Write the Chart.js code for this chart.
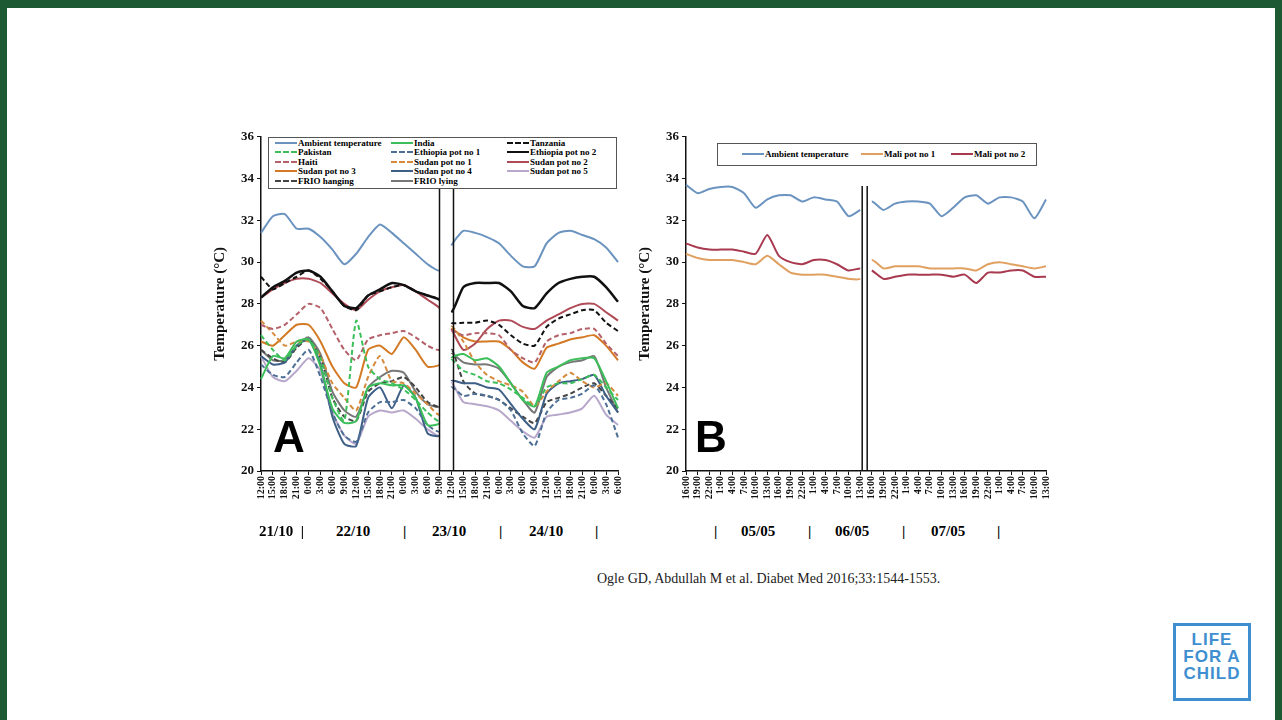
<!DOCTYPE html>
<html>
<head>
<meta charset="utf-8">
<script src="https://cdn.jsdelivr.net/npm/chart.js@4"></script>
<style>
  body { margin: 0; width: 1282px; height: 720px; background: #1d5a34; position: relative; overflow: hidden; font-family: "Liberation Serif", serif; }
  #slide { position: absolute; left: 7px; top: 8px; width: 1268px; height: 712px; background: #fff; }
  canvas { position: absolute; }
  .txt { position: absolute; font-weight: bold; color: #000; white-space: nowrap; }
  .date { font-size: 15px; top: 523px; }
  .big { font-family: "Liberation Sans", Arial, sans-serif; font-size: 44px; font-weight: bold; }
  #legA { position: absolute; left: 268px; top: 137px; width: 347px; height: 50px; border: 1px solid #555; background: #fff; font-size: 9px; font-weight: bold; }
  #legB { position: absolute; left: 717px; top: 143px; width: 318px; height: 21px; border: 1px solid #555; background: #fff; font-size: 9px; font-weight: bold; }
  .li { position: absolute; display: flex; align-items: center; height: 10px; }
  .sw { width: 22px; height: 0; margin-right: 1px; }
  #cite { position: absolute; left: 597px; top: 571px; font-size: 14px; color: #222; }
  #logo { position: absolute; left: 1173px; top: 623px; width: 78px; height: 78px; border: 3px solid #3f8fd0; box-sizing: border-box; color: #3f8fd0; font-family: "Liberation Sans", sans-serif; font-weight: bold; font-size: 17px; line-height: 17px; text-align: center; padding-top: 5px; letter-spacing: 1px; }
</style>
</head>
<body>
<div id="slide"></div>
<canvas id="chartA"></canvas>
<canvas id="chartB"></canvas>
<div id="legA"></div>
<div id="legB"></div>
<div class="txt big" style="left:273px;top:412px">A</div>
<div class="txt big" style="left:695px;top:412px">B</div>
<div class="txt date" style="left:259px">21/10 &nbsp;|</div>
<div class="txt date" style="left:336px">22/10</div>
<div class="txt date" style="left:403px">|</div>
<div class="txt date" style="left:432px">23/10</div>
<div class="txt date" style="left:499px">|</div>
<div class="txt date" style="left:529px">24/10</div>
<div class="txt date" style="left:595px">|</div>
<div class="txt date" style="left:714px">|</div>
<div class="txt date" style="left:741px">05/05</div>
<div class="txt date" style="left:808px">|</div>
<div class="txt date" style="left:835px">06/05</div>
<div class="txt date" style="left:902px">|</div>
<div class="txt date" style="left:931px">07/05</div>
<div class="txt date" style="left:997px">|</div>
<div id="cite">Ogle GD, Abdullah M et al. Diabet Med 2016;33:1544-1553.</div>
<div id="logo">LIFE<br>FOR A<br>CHILD</div>
<script>
// ---- Panel A data (3-hourly, left block idx 0-15, right block idx 16-30)
const labelsA = ['12:00','15:00','18:00','21:00','0:00','3:00','6:00','9:00','12:00','15:00','18:00','21:00','0:00','3:00','6:00','9:00',
                 '12:00','15:00','18:00','21:00','0:00','3:00','6:00','9:00','12:00','15:00','18:00','21:00','0:00','3:00','6:00'];
const ambientA   = [31.4,32.2,32.3,31.6,31.6,31.2,30.6,29.9,30.4,31.2,31.8,31.4,30.9,30.4,29.9,29.6, 30.8,31.5,31.4,31.2,30.9,30.3,29.8,29.8,30.9,31.4,31.5,31.3,31.1,30.7,30.0];
const india      = [24.4,25.5,25.4,26.2,26.3,25.0,23.0,22.3,22.4,24.0,24.2,24.1,24.1,23.5,22.2,22.3, 25.4,25.6,25.3,25.4,25.0,24.2,23.4,23.1,24.7,25.0,25.3,25.4,25.4,24.3,23.0];
const tanzania   = [29.3,28.7,29.0,29.3,29.6,29.2,28.6,27.9,27.7,28.4,28.6,28.8,28.9,28.6,28.4,28.2, 27.1,27.1,27.1,27.2,27.0,26.5,26.1,26.0,26.9,27.3,27.5,27.7,27.7,27.1,26.7];
const pakistan   = [26.5,25.8,25.3,26.0,26.3,25.4,23.5,22.4,27.2,25.0,24.4,24.2,23.9,23.4,22.8,22.4, 25.3,24.8,24.6,24.3,24.2,23.9,23.5,23.1,24.0,24.2,24.2,24.4,24.6,24.0,23.4];
const ethiopia1  = [25.1,24.6,24.5,25.2,25.8,24.5,22.8,21.7,21.4,22.8,23.3,23.3,23.4,23.0,22.2,21.9, 24.0,23.6,23.7,23.6,23.4,22.9,21.8,21.2,22.8,23.4,23.5,23.7,24.1,23.2,21.6];
const ethiopia2  = [28.3,28.8,29.1,29.5,29.6,29.3,28.6,27.9,27.8,28.4,28.7,29.0,28.9,28.6,28.4,28.2, 27.6,28.8,29.0,29.0,29.0,28.6,27.9,27.8,28.5,29.0,29.2,29.3,29.3,28.8,28.1];
const haiti      = [27.0,26.8,27.0,27.5,28.0,27.8,26.8,25.8,25.3,26.3,26.5,26.6,26.7,26.4,26.0,25.8, 26.7,26.5,26.6,26.6,26.5,25.8,25.4,25.2,26.2,26.5,26.6,26.8,26.8,26.1,25.5];
const sudan1     = [27.2,26.6,26.0,26.2,26.2,25.5,24.2,23.5,22.9,24.5,25.5,24.3,24.2,23.7,23.2,22.7, 26.9,26.2,25.2,24.6,24.3,24.1,23.8,23.1,23.8,24.3,24.7,24.3,24.0,24.2,23.6];
const sudan2     = [28.3,28.7,29.0,29.2,29.2,29.0,28.5,28.0,27.7,28.2,28.6,28.8,28.9,28.6,28.2,27.8, 26.8,25.8,26.1,26.8,27.2,27.2,26.9,26.8,27.2,27.5,27.8,28.0,28.0,27.6,27.2];
const sudan3     = [26.2,26.0,26.5,27.0,27.0,26.2,25.0,24.2,24.0,25.8,26.0,25.6,26.4,25.8,25.0,25.1, 26.8,26.4,26.2,26.2,26.2,25.8,25.2,24.9,25.9,26.1,26.3,26.4,26.5,26.0,25.3];
const sudan4     = [25.5,25.1,25.2,26.0,26.3,25.1,22.6,21.3,21.2,23.5,24.0,23.0,24.1,23.5,21.8,21.7, 24.3,24.2,24.2,24.0,23.9,23.2,22.5,22.0,23.7,24.2,24.3,24.4,24.6,23.6,22.8];
const sudan5     = [25.5,24.5,24.3,24.8,25.4,24.8,22.8,21.7,21.3,22.6,22.9,22.8,22.9,22.5,22.0,21.7, 24.2,23.3,23.2,23.1,22.9,22.4,21.9,21.6,22.6,22.7,22.8,23.0,23.6,22.7,22.2];
const frioHang   = [25.8,25.4,25.2,25.9,26.3,25.4,23.5,22.6,22.4,23.8,24.2,24.3,24.5,24.0,23.3,23.1, 25.8,24.3,23.7,23.6,23.4,23.0,22.6,22.3,23.3,23.5,23.7,24.0,24.2,23.6,23.0];
const frioLying  = [25.8,25.3,25.3,26.0,26.4,25.6,23.8,22.9,22.6,24.0,24.5,24.8,24.7,23.8,23.2,23.1, 25.6,25.2,25.1,25.1,24.9,24.2,23.4,22.8,24.5,25.0,25.2,25.3,25.5,24.0,22.8];

// ---- Panel B data (3-hourly, left block idx 0-15, right block idx 16-31)
const labelsB = ['16:00','19:00','22:00','1:00','4:00','7:00','10:00','13:00','16:00','19:00','22:00','1:00','4:00','7:00','10:00','13:00',
                 '16:00','19:00','22:00','1:00','4:00','7:00','10:00','13:00','16:00','19:00','22:00','1:00','4:00','7:00','10:00','13:00'];
const ambientB = [33.7,33.3,33.5,33.6,33.6,33.3,32.6,33.0,33.2,33.2,32.9,33.1,33.0,32.9,32.2,32.5, 32.9,32.5,32.8,32.9,32.9,32.8,32.2,32.6,33.1,33.2,32.8,33.1,33.1,32.9,32.1,33.0];
const mali1    = [30.4,30.2,30.1,30.1,30.1,30.0,29.9,30.3,29.9,29.5,29.4,29.4,29.4,29.3,29.2,29.2, 30.1,29.7,29.8,29.8,29.8,29.7,29.7,29.7,29.7,29.6,29.9,30.0,29.9,29.8,29.7,29.8];
const mali2    = [30.9,30.7,30.6,30.6,30.6,30.5,30.4,31.3,30.3,30.0,29.9,30.1,30.1,29.9,29.6,29.7, 29.6,29.2,29.3,29.4,29.4,29.4,29.4,29.3,29.4,29.0,29.5,29.5,29.6,29.6,29.3,29.3];

const GAP = 15; // last index of left block

function ds(label, data, color, dashed, width) {
  return {
    label: label, data: data, borderColor: color, borderWidth: width || 2,
    borderDash: dashed ? [5, 3] : [], pointRadius: 0, tension: 0.2, fill: false,
    segment: { borderColor: c => c.p0DataIndex === GAP ? 'rgba(0,0,0,0)' : undefined }
  };
}

const setsA = [
  ds('Ambient temperature', ambientA, '#6b93bf'),
  ds('India', india, '#3cbf5a'),
  ds('Tanzania', tanzania, '#111', true),
  ds('Pakistan', pakistan, '#3cbf5a', true),
  ds('Ethiopia pot no 1', ethiopia1, '#4e7096', true),
  ds('Ethiopia pot no 2', ethiopia2, '#111', false, 2.5),
  ds('Haiti', haiti, '#b5616a', true),
  ds('Sudan pot no 1', sudan1, '#d68a3c', true),
  ds('Sudan pot no 2', sudan2, '#b04a57'),
  ds('Sudan pot no 3', sudan3, '#d47a25'),
  ds('Sudan pot no 4', sudan4, '#3e5f86'),
  ds('Sudan pot no 5', sudan5, '#b7a8cb'),
  ds('FRIO hanging', frioHang, '#444', true),
  ds('FRIO lying', frioLying, '#777')
];
const setsB = [
  ds('Ambient temperature', ambientB, '#6b93bf'),
  ds('Mali pot no 1', mali1, '#e0a060'),
  ds('Mali pot no 2', mali2, '#a8394f')
];

const gapLines = {
  id: 'gapLines',
  afterDatasetsDraw(chart, args, opts) {
    const x = chart.scales.x, ca = chart.chartArea, c = chart.ctx;
    c.save(); c.strokeStyle = '#111'; c.lineWidth = 1.5;
    opts.xs.forEach(v => {
      const px = x.getPixelForValue(GAP) + v;
      c.beginPath(); c.moveTo(px, opts.top - 126); c.lineTo(px, ca.bottom); c.stroke();
    });
    c.restore();
  }
};

function makeChart(id, left, width, labels, sets, xs, top) {
  const cv = document.getElementById(id);
  cv.style.left = left + 'px'; cv.style.top = '126px';
  cv.style.width = width + 'px'; cv.style.height = '392px';
  return new Chart(cv, {
    type: 'line',
    data: { labels: labels, datasets: sets },
    plugins: [gapLines],
    options: {
      responsive: false, animation: false, devicePixelRatio: 1,
      layout: { padding: { top: 10, right: 0, left: 0, bottom: 0 } },
      plugins: { legend: { display: false }, tooltip: { enabled: false }, gapLines: { xs: xs, top: top } },
      scales: {
        y: {
          min: 20, max: 36,
          ticks: { stepSize: 2, color: '#111', font: { family: 'Liberation Serif', size: 13, weight: 'bold' }, padding: 3 },
          grid: { drawOnChartArea: false, tickLength: 4, color: '#111' },
          border: { color: '#111', width: 1.5 },
          title: { display: true, text: 'Temperature (°C)', color: '#111', font: { family: 'Liberation Serif', size: 15, weight: 'bold' }, padding: 0 },
          afterFit: s => { s.width = 50; }
        },
        x: {
          offset: false,
          ticks: { autoSkip: false, maxRotation: 90, minRotation: 90, color: '#111', font: { family: 'Liberation Serif', size: 10, weight: 'bold' }, padding: 1 },
          grid: { drawOnChartArea: false, tickLength: 4, color: '#111' },
          border: { color: '#111', width: 1.5 },
          afterFit: s => { s.height = 47; }
        }
      }
    }
  });
}

makeChart('chartA', 211, 420, labelsA, setsA, [0, 14], 187);
makeChart('chartB', 636, 423, labelsB, setsB, [2, 7], 186);

function legend(el, sets, xsPos, cols, rowH, y0) {
  sets.forEach((s, i) => {
    const d = document.createElement('div');
    d.className = 'li';
    d.style.left = xsPos[i % cols] + 'px';
    d.style.top = (y0 + Math.floor(i / cols) * rowH) + 'px';
    const sw = document.createElement('span');
    sw.className = 'sw';
    sw.style.borderTop = '2px ' + (s.borderDash.length ? 'dashed ' : 'solid ') + s.borderColor;
    d.appendChild(sw);
    d.appendChild(document.createTextNode(s.label));
    el.appendChild(d);
  });
}
legend(document.getElementById('legA'), setsA, [6, 122, 238], 3, 9.4, 0);
legend(document.getElementById('legB'), setsB, [24, 143, 233], 3, 10, 5);
</script>
</body>
</html>
